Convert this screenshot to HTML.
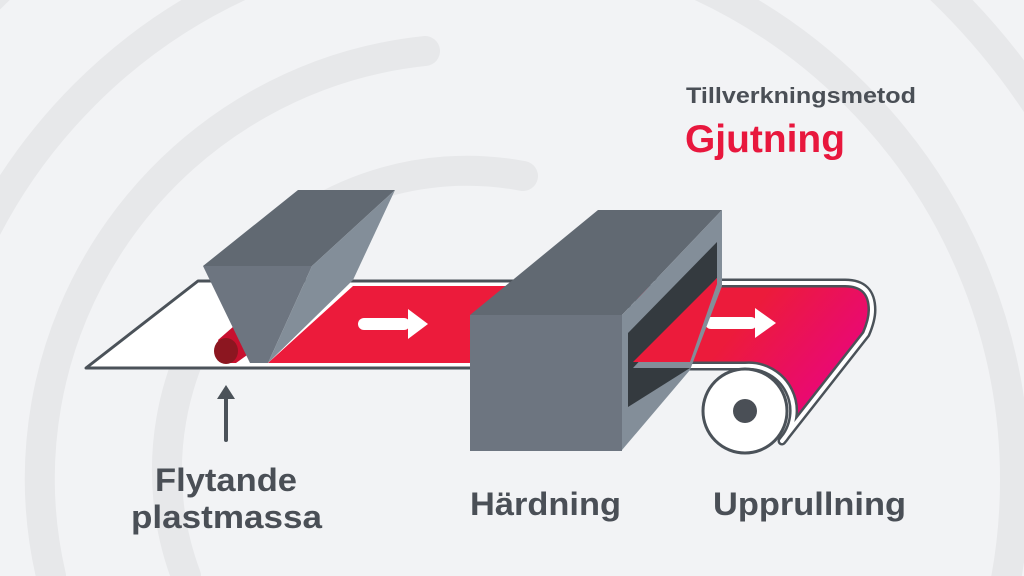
<!DOCTYPE html>
<html><head><meta charset="utf-8"><style>
html,body{margin:0;padding:0;width:1024px;height:576px;overflow:hidden;background:#f2f3f5}
svg{display:block}
text{font-family:"Liberation Sans",sans-serif;font-weight:bold}
</style></head><body>
<svg width="1024" height="576" viewBox="0 0 1024 576" xmlns="http://www.w3.org/2000/svg">
<defs>
<linearGradient id="mg" x1="760" y1="300" x2="880" y2="400" gradientUnits="userSpaceOnUse">
<stop offset="0" stop-color="#ec1b3b"/><stop offset="1" stop-color="#e8008e"/>
</linearGradient>
</defs>
<rect width="1024" height="576" fill="#f2f3f5"/>
<g fill="none" stroke="#e7e8ea" stroke-width="30" stroke-linecap="round">
<path d="M523 176 A300 300 0 0 0 186 576"/>
<path d="M425 51 A430 430 0 0 0 51 576"/>
<circle cx="470" cy="480" r="545"/>
<circle cx="470" cy="480" r="680"/>
<circle cx="470" cy="480" r="820"/>
</g>
<!-- left belt outline -->
<path d="M198 281 L720 281 L720 368 L86 368 Z" fill="#ffffff" stroke="#4b5259" stroke-width="3" stroke-linejoin="round"/>
<!-- red belt left -->
<polygon points="353,286 520,286 520,363 268,363" fill="#ec1b3b"/>
<!-- red roll at left -->
<polygon points="218,340 250,312 268,340 236,363 225,363" fill="#c8102e"/>
<ellipse cx="226" cy="351" rx="12" ry="13" fill="#8c1620"/>
<!-- right belt -->
<path d="M633 366 L745 366 A45 45 0 0 1 782 441 L866 334 Q872 320 872 310 Q872 283 845 283 L633 283 Z" fill="url(#mg)" stroke="#4b5259" stroke-width="9" stroke-linejoin="round"/>
<path d="M633 366 L745 366 A45 45 0 0 1 782 441 L866 334 Q872 320 872 310 Q872 283 845 283 L633 283 Z" fill="none" stroke="#ffffff" stroke-width="4" stroke-linejoin="round"/>
<!-- roller -->
<circle cx="745" cy="411" r="42" fill="#fff" stroke="#4b5259" stroke-width="3"/>
<circle cx="745" cy="411" r="12" fill="#4a4f56"/>
<!-- arrows -->
<g fill="#fff">
<rect x="358" y="318" width="52" height="12" rx="6"/>
<polygon points="408,309 428,324 408,339"/>
<rect x="705" y="317" width="52" height="12" rx="6"/>
<polygon points="755,308 776,323 755,338"/>
</g>
<!-- hopper -->
<polygon points="298,190 395,190 312,266 203,266" fill="#616972"/>
<polygon points="203,266 312,266 268,363 250,363" fill="#6d7580"/>
<polygon points="312,266 395,190 353,280 268,363" fill="#838e99"/>
<!-- box -->
<polygon points="470,315 598,210 722,210 622,315" fill="#616972"/>
<polygon points="622,315 722,210 722,286 690,370 622,450" fill="#838e99"/>
<polygon points="628,333 717,242 717,278 633,368 628,368" fill="#343a3f"/>
<polygon points="628,368 690,368 628,407" fill="#343a3f"/>
<polygon points="633,362 717,278 717,284 690,362" fill="#ec1b3b"/>
<rect x="470" y="315" width="152" height="136" fill="#6d7580"/>
<!-- up arrow -->
<line x1="226" y1="440" x2="226" y2="396" stroke="#4b5259" stroke-width="4" stroke-linecap="round"/>
<polygon points="217,399 226,385 235,399" fill="#4b5259"/>
<!-- texts -->
<text x="686" y="103" font-size="22" fill="#4a4f56" textLength="230" lengthAdjust="spacingAndGlyphs">Tillverkningsmetod</text>
<text x="685" y="152" font-size="39" fill="#e8173d" textLength="160" lengthAdjust="spacingAndGlyphs">Gjutning</text>
<g font-size="32" fill="#4a4f56">
<text x="155" y="491" textLength="142" lengthAdjust="spacingAndGlyphs">Flytande</text>
<text x="131" y="528" textLength="191" lengthAdjust="spacingAndGlyphs">plastmassa</text>
<text x="470" y="515" textLength="151" lengthAdjust="spacingAndGlyphs">Härdning</text>
<text x="713" y="515" textLength="193" lengthAdjust="spacingAndGlyphs">Upprullning</text>
</g>
</svg>
</body></html>
